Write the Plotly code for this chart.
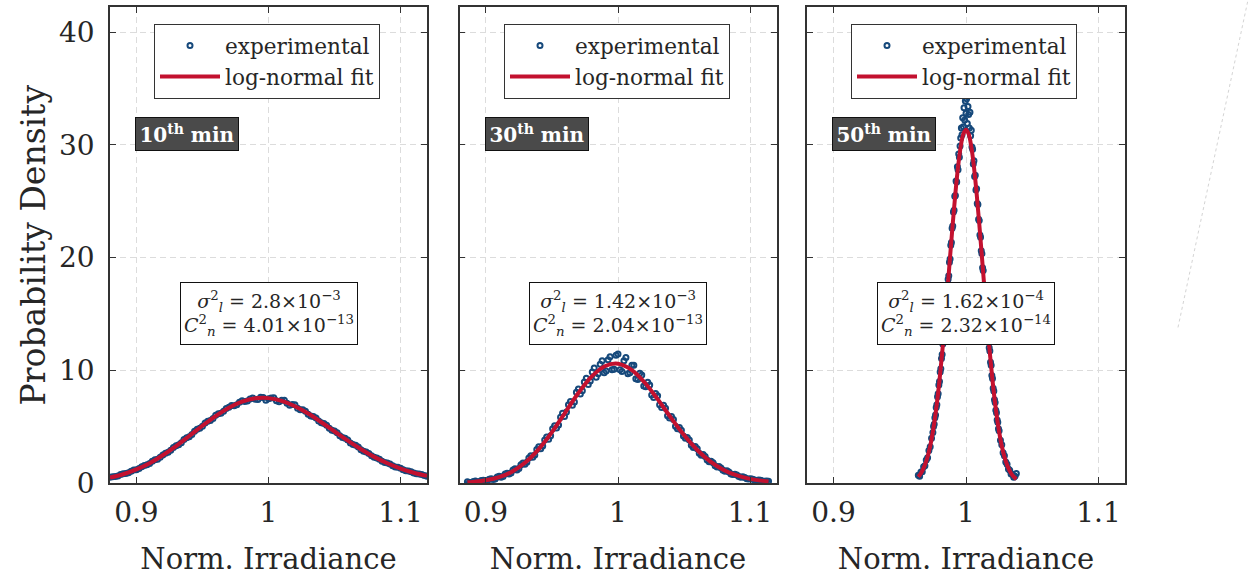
import plotly.graph_objects as go

# ---------------- data ----------------
panel_minutes = ["10", "30", "50"]
sigma_vals = ["2.8×10<sup>−3</sup>", "1.42×10<sup>−3</sup>", "1.62×10<sup>−4</sup>"]
cn_vals = ["4.01×10<sup>−13</sup>", "2.04×10<sup>−13</sup>", "2.32×10<sup>−14</sup>"]
x_tick_vals = [0.9, 1.0, 1.1]
x_tick_text = ["0.9", "1", "1.1"]
y_tick_vals = [0, 10, 20, 30, 40]
y_tick_text = ["0", "10", "20", "30", "40"]

# 10th min (two interleaved sample sets)
exp1a_x = [0.880, 0.884, 0.888, 0.892, 0.896, 0.900, 0.904, 0.908, 0.912, 0.916,
           0.920, 0.924, 0.928, 0.932, 0.936, 0.940, 0.944, 0.948, 0.952, 0.956,
           0.960, 0.964, 0.968, 0.972, 0.976, 0.980, 0.984, 0.988, 0.992, 0.996,
           1.000, 1.004, 1.008, 1.012, 1.016, 1.020, 1.024, 1.028, 1.032, 1.036,
           1.040, 1.044, 1.048, 1.052, 1.056, 1.060, 1.064, 1.068, 1.072, 1.076,
           1.080, 1.084, 1.088, 1.092, 1.096, 1.100, 1.104, 1.108, 1.112, 1.116,
           1.120]
exp1a_y = [0.52, 0.58, 0.76, 0.85, 1.06, 1.19, 1.46, 1.63, 1.94, 2.12,
           2.50, 2.75, 3.15, 3.41, 3.86, 4.12, 4.60, 4.86, 5.33, 5.55,
           6.02, 6.20, 6.62, 6.88, 6.96, 7.30, 7.28, 7.55, 7.42, 7.60,
           7.48, 7.58, 7.22, 7.35, 6.90, 6.95, 6.50, 6.38, 5.96, 5.78,
           5.36, 5.14, 4.70, 4.46, 4.04, 3.82, 3.42, 3.20, 2.83, 2.63,
           2.30, 2.12, 1.84, 1.69, 1.44, 1.32, 1.10, 1.01, 0.84, 0.77,
           0.62]
exp1b_x = [0.882, 0.886, 0.890, 0.894, 0.898, 0.902, 0.906, 0.910, 0.914, 0.918,
           0.922, 0.926, 0.930, 0.934, 0.938, 0.942, 0.946, 0.950, 0.954, 0.958,
           0.962, 0.966, 0.970, 0.974, 0.978, 0.982, 0.986, 0.990, 0.994, 0.998,
           1.002, 1.006, 1.010, 1.014, 1.018, 1.022, 1.026, 1.030, 1.034, 1.038,
           1.042, 1.046, 1.050, 1.054, 1.058, 1.062, 1.066, 1.070, 1.074, 1.078,
           1.082, 1.086, 1.090, 1.094, 1.098, 1.102, 1.106, 1.110, 1.114, 1.118]
exp1b_y = [0.57, 0.64, 0.83, 0.93, 1.16, 1.30, 1.57, 1.75, 2.07, 2.29,
           2.66, 2.92, 3.31, 3.59, 4.03, 4.32, 4.77, 5.04, 5.48, 5.74,
           6.15, 6.37, 6.72, 6.86, 7.18, 7.25, 7.46, 7.44, 7.62, 7.36,
           7.56, 7.30, 7.36, 7.08, 6.98, 6.64, 6.50, 6.12, 5.92, 5.50,
           5.29, 4.87, 4.63, 4.20, 3.97, 3.57, 3.35, 2.97, 2.77, 2.42,
           2.24, 1.95, 1.79, 1.54, 1.40, 1.19, 1.08, 0.90, 0.82, 0.68]
fit1_x = [0.88, 0.89, 0.90, 0.91, 0.92, 0.93, 0.94, 0.95, 0.96, 0.97, 0.98, 0.99,
          1.00, 1.01, 1.02, 1.03, 1.04, 1.05, 1.06, 1.07, 1.08, 1.09, 1.10, 1.11, 1.12]
fit1_y = [0.49, 0.79, 1.22, 1.77, 2.47, 3.28, 4.18, 5.09, 5.95, 6.69, 7.22, 7.52,
          7.54, 7.30, 6.82, 6.17, 5.40, 4.58, 3.77, 3.01, 2.33, 1.76, 1.29, 0.92, 0.64]

# 30th min (two interleaved sample sets)
exp2a_x = [0.886, 0.889, 0.892, 0.895, 0.898, 0.901, 0.904, 0.907, 0.910, 0.913,
           0.916, 0.919, 0.922, 0.925, 0.928, 0.931, 0.934, 0.937, 0.940, 0.943,
           0.946, 0.949, 0.952, 0.955, 0.958, 0.961, 0.964, 0.967, 0.970, 0.973,
           0.976, 0.979, 0.982, 0.985, 0.988, 0.991, 0.994, 0.997, 1.000, 1.003,
           1.006, 1.009, 1.012, 1.015, 1.018, 1.021, 1.024, 1.027, 1.030, 1.033,
           1.036, 1.039, 1.042, 1.045, 1.048, 1.051, 1.054, 1.057, 1.060, 1.063,
           1.066, 1.069, 1.072, 1.075, 1.078, 1.081, 1.084, 1.087, 1.090, 1.093,
           1.096, 1.099, 1.102, 1.105, 1.108, 1.111, 1.114]
exp2a_y = [0.12, 0.06, 0.18, 0.13, 0.26, 0.22, 0.40, 0.37, 0.60, 0.58,
           0.88, 0.90, 1.28, 1.30, 1.78, 1.85, 2.42, 2.50, 3.22, 3.30,
           4.10, 4.20, 5.08, 5.15, 6.20, 6.30, 7.25, 7.20, 8.35, 8.20,
           9.30, 9.05, 10.20, 9.70, 10.85, 9.95, 11.20, 10.10, 11.45, 9.90,
           11.15, 9.80, 10.45, 9.20, 9.60, 8.55, 8.70, 7.60, 7.75, 6.70,
           6.65, 5.78, 5.65, 4.82, 4.70, 3.98, 3.82, 3.15, 3.05, 2.48,
           2.36, 1.90, 1.80, 1.43, 1.35, 1.05, 0.99, 0.76, 0.72, 0.53,
           0.51, 0.36, 0.35, 0.24, 0.25, 0.16, 0.17]
exp2b_x = [0.8875, 0.8905, 0.8935, 0.8965, 0.8995, 0.9025, 0.9055, 0.9085, 0.9115, 0.9145,
           0.9175, 0.9205, 0.9235, 0.9265, 0.9295, 0.9325, 0.9355, 0.9385, 0.9415, 0.9445,
           0.9475, 0.9505, 0.9535, 0.9565, 0.9595, 0.9625, 0.9655, 0.9685, 0.9715, 0.9745,
           0.9775, 0.9805, 0.9835, 0.9865, 0.9895, 0.9925, 0.9955, 0.9985, 1.0015, 1.0045,
           1.0075, 1.0105, 1.0135, 1.0165, 1.0195, 1.0225, 1.0255, 1.0285, 1.0315, 1.0345,
           1.0375, 1.0405, 1.0435, 1.0465, 1.0495, 1.0525, 1.0555, 1.0585, 1.0615, 1.0645,
           1.0675, 1.0705, 1.0735, 1.0765, 1.0795, 1.0825, 1.0855, 1.0885, 1.0915, 1.0945,
           1.0975, 1.1005, 1.1035, 1.1065, 1.1095, 1.1125]
exp2b_y = [0.05, 0.15, 0.11, 0.23, 0.20, 0.35, 0.33, 0.54, 0.53, 0.80,
           0.80, 1.16, 1.17, 1.64, 1.68, 2.24, 2.29, 2.98, 3.05, 3.82,
           3.90, 4.82, 4.88, 5.85, 5.90, 6.95, 6.90, 8.05, 7.90, 8.98,
           8.75, 9.85, 9.40, 10.55, 9.80, 10.95, 10.05, 11.35, 10.05, 10.85,
           9.70, 10.45, 9.25, 9.75, 8.62, 8.95, 7.82, 7.95, 6.95, 6.90,
           5.98, 5.92, 5.05, 4.93, 4.18, 4.05, 3.36, 3.24, 2.66, 2.54,
           2.05, 1.95, 1.55, 1.47, 1.14, 1.09, 0.82, 0.79, 0.58, 0.56,
           0.40, 0.39, 0.27, 0.27, 0.18, 0.19]
fit2_x = [0.886, 0.89, 0.90, 0.91, 0.92, 0.93, 0.94, 0.95, 0.96, 0.97, 0.98, 0.99,
          1.00, 1.01, 1.02, 1.03, 1.04, 1.05, 1.06, 1.07, 1.08, 1.09, 1.10, 1.11, 1.114]
fit2_y = [0.07, 0.11, 0.25, 0.53, 1.04, 1.85, 3.02, 4.53, 6.26, 7.99, 9.45, 10.37,
          10.59, 10.07, 8.95, 7.45, 5.81, 4.26, 2.94, 1.91, 1.17, 0.68, 0.38, 0.20, 0.15]

# 50th min
exp3_x = [0.964, 0.965, 0.966, 0.967, 0.968, 0.969, 0.970, 0.971, 0.972, 0.973, 0.974,
          0.9750, 0.9755, 0.9760, 0.9765, 0.9770, 0.9775, 0.9780, 0.9785, 0.9790, 0.9795,
          0.9800, 0.9805, 0.9810, 0.9815, 0.9820, 0.9825, 0.9830, 0.9835, 0.9840, 0.9845,
          0.9850, 0.9855, 0.9860, 0.9865, 0.9870, 0.9875, 0.9880, 0.9885, 0.9890, 0.9895,
          0.9900, 0.9905, 0.9910, 0.9915, 0.9920, 0.9925, 0.9930, 0.9935, 0.9940, 0.9945,
          0.9950,
          0.9955, 0.9960, 0.9965, 0.9970, 0.9975, 0.9980, 0.9985, 0.9990, 0.9995, 1.0000,
          1.0005, 1.0010, 1.0015, 1.0020, 1.0025, 1.0030, 1.0035, 1.0040, 1.0045,
          1.0050, 1.0055, 1.0060, 1.0065, 1.0070, 1.0075, 1.0080, 1.0085, 1.0090, 1.0095,
          1.0100, 1.0105, 1.0110, 1.0115, 1.0120, 1.0125, 1.0130, 1.0135, 1.0140, 1.0145,
          1.0150, 1.0155, 1.0160, 1.0165, 1.0170, 1.0175, 1.0180, 1.0185, 1.0190, 1.0195,
          1.0200, 1.0205, 1.0210, 1.0215, 1.0220, 1.0225, 1.0230, 1.0235, 1.0240, 1.0245,
          1.0250,
          1.026, 1.027, 1.028, 1.029, 1.030, 1.031, 1.032, 1.033, 1.034, 1.035, 1.036,
          1.037, 1.038]
exp3_y = [0.70, 0.62, 0.98, 1.02, 1.45, 1.55, 2.05, 2.26, 2.90, 3.22, 3.98,
          4.48, 5.02, 5.22, 5.81, 6.05, 6.70, 6.95, 7.66, 7.92, 8.70,
          9.02, 9.85, 10.15, 11.05, 11.40, 12.35, 12.70, 13.70, 14.05, 15.12,
          15.48, 16.58, 16.92, 18.08, 18.40, 19.60, 19.88, 21.10, 21.35, 22.60,
          22.80, 24.05, 24.20, 25.45, 25.50, 26.80, 26.70, 28.05, 27.80, 29.20,
          28.90,
          29.90, 30.60, 31.50, 30.90, 32.40, 31.60, 33.30, 32.20, 33.90, 32.80,
          34.10, 31.90, 33.40, 32.70, 31.50, 32.90, 30.80, 31.30, 29.80,
          29.60, 28.30, 28.60, 27.20, 27.30, 26.00, 26.10, 24.80, 24.70, 23.40,
          23.30, 22.00, 21.80, 20.60, 20.35, 19.10, 18.85, 17.60, 17.35, 16.15,
          15.88, 14.72, 14.45, 13.32, 13.05, 12.00, 11.72, 10.72, 10.45, 9.55,
          9.28, 8.42, 8.18, 7.40, 7.15, 6.46, 6.24, 5.60, 5.40, 4.82,
          4.65,
          3.80, 3.40, 2.70, 2.42, 1.88, 1.68, 1.26, 1.15, 0.82, 0.78, 0.52,
          0.60, 0.85]
fit3_x = [0.964, 0.966, 0.968, 0.970, 0.972, 0.974, 0.976, 0.978, 0.980, 0.982,
          0.984, 0.986, 0.988, 0.990, 0.992, 0.994, 0.996, 0.998, 1.000, 1.002,
          1.004, 1.006, 1.008, 1.010, 1.012, 1.014, 1.016, 1.018, 1.020, 1.022,
          1.024, 1.026, 1.028, 1.030, 1.032, 1.034, 1.036, 1.038]
fit3_y = [0.57, 0.88, 1.33, 1.95, 2.79, 3.89, 5.30, 7.04, 9.12, 11.53,
          14.22, 17.12, 20.10, 23.02, 25.72, 28.04, 29.83, 30.96, 31.34, 30.96,
          29.83, 28.04, 25.72, 23.02, 20.10, 17.12, 14.22, 11.53, 9.12, 7.04,
          5.30, 3.89, 2.79, 1.95, 1.33, 0.88, 0.57, 0.36]

# ---------------- style ----------------
FONT = "DejaVu Serif"
AX = "#333333"
GRID = "#dcdcdc"
BLUE = "#16497b"
RED = "#c3112f"
W, H = 1248, 577
HEFF = 561.0   # effective drawn height observed in the photographed page

panel_px = [(110, 427), (459.5, 776.5), (807, 1125)]
y_px = (484, 7.3)
legend_left_px = [154, 504, 851]
legend_top_px = 24

panels = [(exp1a_x + exp1b_x, exp1a_y + exp1b_y, fit1_x, fit1_y),
          (exp2a_x + exp2b_x, exp2a_y + exp2b_y, fit2_x, fit2_y),
          (exp3_x, exp3_y, fit3_x, fit3_y)]

fig = go.Figure()
for i, (ex, ey, fx, fy) in enumerate(panels):
    sfx = "" if i == 0 else str(i + 1)
    leg = "legend" + sfx
    fig.add_trace(go.Scatter(
        x=ex, y=ey, mode="markers", name="experimental",
        marker=dict(symbol="circle-open", size=5, color=BLUE, line=dict(width=2, color=BLUE)),
        xaxis="x" + sfx, yaxis="y" + sfx, legend=leg))
    fig.add_trace(go.Scatter(
        x=fx, y=fy, mode="lines", name="log-normal fit",
        line=dict(color=RED, width=4, shape="spline"),
        xaxis="x" + sfx, yaxis="y" + sfx, legend=leg))

layout = dict(
    width=W, height=H, autosize=False,
    margin=dict(l=0, r=0, t=0, b=0),
    paper_bgcolor="white", plot_bgcolor="white",
    font=dict(family=FONT, color="#262626", size=20),
    annotations=[], shapes=[],
)

ydom = [(HEFF - y_px[0]) / HEFF, (HEFF - y_px[1]) / HEFF]
for i in range(3):
    sfx = "" if i == 0 else str(i + 1)
    a, b = panel_px[i]
    layout["xaxis" + sfx] = dict(
        domain=[a / W, b / W], range=[0.88, 1.12], anchor="y" + sfx,
        tickvals=x_tick_vals, ticktext=x_tick_text,
        ticks="inside", ticklen=6, tickwidth=1.3, tickcolor=AX,
        showline=True, linecolor=AX, linewidth=1.5, mirror="ticks",
        showgrid=True, gridcolor=GRID, gridwidth=1, griddash="6px,4px",
        zeroline=False, tickfont=dict(size=28, family=FONT, color="#262626"),
        ticklabelstandoff=4,
        title=dict(text="Norm. Irradiance", font=dict(size=29, family=FONT, color="#262626"), standoff=20),
    )
    layout["yaxis" + sfx] = dict(
        domain=ydom, range=[0, 42.2], anchor="x" + sfx,
        tickvals=y_tick_vals, ticktext=y_tick_text,
        ticks="inside", ticklen=6, tickwidth=1.3, tickcolor=AX,
        showline=True, linecolor=AX, linewidth=1.5, mirror="ticks",
        showgrid=True, gridcolor=GRID, gridwidth=1, griddash="6px,4px",
        zeroline=False, tickfont=dict(size=28, family=FONT, color="#262626"),
        showticklabels=(i == 0), ticklabelstandoff=8,
    )
    if i == 0:
        layout["yaxis"]["title"] = dict(text="Probability Density",
                                        font=dict(size=33, family=FONT, color="#262626"),
                                        standoff=3)
    layout["legend" + sfx] = dict(
        x=legend_left_px[i] / W, y=(HEFF - legend_top_px) / HEFF,
        xanchor="left", yanchor="top", xref="paper", yref="paper",
        bgcolor="white", bordercolor=AX, borderwidth=1,
        font=dict(size=21.6, family=FONT, color="#262626"),
        itemwidth=60, tracegroupgap=0,
    )
    layout["annotations"].append(dict(
        text="<b>" + panel_minutes[i] + "<sup>th</sup> min</b>",
        xref="x" + sfx + " domain", yref="y" + sfx + " domain",
        x=0.243, y=0.734, xanchor="center", yanchor="middle", showarrow=False,
        font=dict(size=20, family=FONT, color="white"),
        bgcolor="#4a4a4a", bordercolor="#111111", borderwidth=1, borderpad=1,
        width=100, height=30,
    ))
    layout["annotations"].append(dict(
        text=("<i>σ</i><sup>2</sup><sub><i>l</i></sub> = " + sigma_vals[i] + "<br>"
              "<i>C</i><sup>2</sup><sub><i>n</i></sub> = " + cn_vals[i]),
        xref="x" + sfx, yref="y" + sfx, x=1.0, y=15.0,
        xanchor="center", yanchor="middle", showarrow=False, align="center",
        font=dict(size=19, family=FONT, color="#262626"),
        bgcolor="white", bordercolor="#111111", borderwidth=1, borderpad=2,
        width=172, height=57,
    ))

layout["shapes"].append(dict(type="line", xref="paper", yref="paper",
                             x0=1178 / W, y0=(HEFF - 328) / HEFF, x1=1.0, y1=(HEFF - 0) / HEFF,
                             line=dict(color="#d4d4d4", width=1, dash="dot")))

fig.update_layout(**layout)
page_css = ("document.documentElement.style.margin='0px';"
            "document.documentElement.style.overflow='hidden';"
            "document.body.style.margin='0px';"
            "document.body.style.padding='0px';"
            "document.body.style.overflow='hidden';")
fig.write_html("out.html", config={"displayModeBar": False}, post_script=page_css)
